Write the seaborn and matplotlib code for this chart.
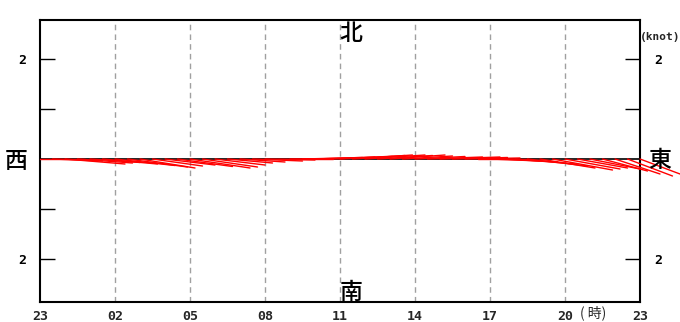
import numpy as np
import pandas as pd
import matplotlib
matplotlib.use("Agg")
import matplotlib.pyplot as plt
import seaborn as sns

# ---- data (hours after 23:00, east/north components in knots) ----
hours = [0, 0.5, 1, 1.5, 2, 2.5, 3, 3.5, 4, 4.5, 5, 5.5, 6, 6.5, 7, 7.5, 8, 8.5,
         9, 9.5, 10, 10.5, 11, 11.5, 12, 12.5, 13, 13.5, 14, 14.5, 15, 15.5, 16,
         16.5, 17, 17.5, 18, 18.5, 19, 19.5, 20, 20.5, 21, 21.5, 22, 22.5, 23,
         23.5, 24]
u_east = [0.9, 1.0, 1.2, 1.1, 1.0, 1.1, 1.2, 1.2, 1.1, 1.0, 1.0, 1.1, 1.2, 1.1,
          1.0, 0.9, 0.9, 1.0, 1.0, 1.1, 1.1, 1.2, 1.2, 1.3, 1.3, 1.2, 1.2, 1.1,
          1.1, 1.0, 1.0, 1.1, 1.2, 1.1, 1.1, 1.0, 1.0, 1.1, 1.2, 1.2, 1.1, 1.2,
          1.1, 1.0, 1.0, 0.9, 0.9, 0.9, 0.8]
v_north = [0.0, -0.04, -0.10, -0.08, -0.07, -0.10, -0.13, -0.16, -0.18, -0.14,
           -0.12, -0.15, -0.18, -0.16, -0.12, -0.08, -0.06, -0.04, -0.02, 0.0,
           0.01, 0.03, 0.04, 0.05, 0.07, 0.08, 0.08, 0.07, 0.08, 0.06, 0.05,
           0.04, 0.04, 0.03, 0.02, 0.0, -0.04, -0.06, -0.10, -0.14, -0.18,
           -0.22, -0.20, -0.18, -0.20, -0.24, -0.30, -0.34, -0.30]
xtick_pos = [0, 3, 6, 9, 12, 15, 18, 21, 24]
xtick_labels = ["23", "02", "05", "08", "11", "14", "17", "20", "23"]
ytick_pos = [-2, 2]
ytick_labels = ["2", "2"]

HOURS_PER_KNOT = 2.0  # 1 knot drawn as the same length as 1 knot vertically

rows = []
for i, (t, u, v) in enumerate(zip(hours, u_east, v_north)):
    rows.append({"id": i, "x": t, "y": 0.0})
    rows.append({"id": i, "x": t + u * HOURS_PER_KNOT, "y": v})
df = pd.DataFrame(rows)
base = pd.DataFrame({"x": [hours[0], hours[-1]], "y": [0.0, 0.0]})

sns.set_style("white")
plt.rcParams["font.family"] = ["DejaVu Sans Mono", "Noto Sans CJK JP"]

fig = plt.figure(figsize=(6.8, 3.22), dpi=100)
ax = fig.add_axes([40 / 680, 1 - 302 / 322, 600 / 680, 282 / 322])

# vertical dashed grid
for xv in xtick_pos[1:-1]:
    ax.axvline(xv, color="#a0a0a0", lw=1, ls=(0, (4, 3)), zorder=0)

sns.lineplot(data=base, x="x", y="y", color="black", lw=1.2, ax=ax,
             estimator=None, sort=False, zorder=2)
sns.lineplot(data=df, x="x", y="y", units="id", estimator=None, sort=False,
             color="red", lw=1.0, ax=ax, legend=False, zorder=3)
for line in ax.lines:
    line.set_clip_on(False)

ax.set_xlim(0, 24)
ax.set_ylim(-2.86, 2.78)
ax.set_xlabel("")
ax.set_ylabel("")

ax.set_xticks(xtick_pos)
ax.set_xticklabels(xtick_labels, fontsize=9.5, fontweight="bold")
ax.set_yticks(ytick_pos)
ax.set_yticklabels(ytick_labels, fontsize=9.5, fontweight="bold")
ax.set_yticks([-1, 1], minor=True)
ax.tick_params(axis="y", which="both", direction="in", length=11, width=1,
               left=True, right=True, labelleft=True, labelright=True, pad=10,
               colors="black")
ax.tick_params(axis="x", which="both", length=0, pad=6)
for s in ax.spines.values():
    s.set_visible(True)
    s.set_color("black")
    s.set_linewidth(1.5)

cjk = ["Noto Sans CJK JP", "DejaVu Sans"]
kw = dict(fontsize=16.5, ha="center", va="center", family=cjk, color="black",
          fontweight="medium")
fig.text(351 / 680, 1 - 34 / 322, "北", **kw)
fig.text(351 / 680, 1 - 292 / 322, "南", **kw)
fig.text(16 / 680, 1 - 161 / 322, "西", **kw)
fig.text(660 / 680, 1 - 160 / 322, "東", **kw)
fig.text(660 / 680, 1 - 37 / 322, "(knot)", fontsize=8, fontweight="bold",
         ha="center", va="center")
fig.text(593 / 680, 1 - 313 / 322, "( 時)", fontsize=10, ha="center", va="center",
         family=cjk)

fig.savefig("out.png", dpi=100)
